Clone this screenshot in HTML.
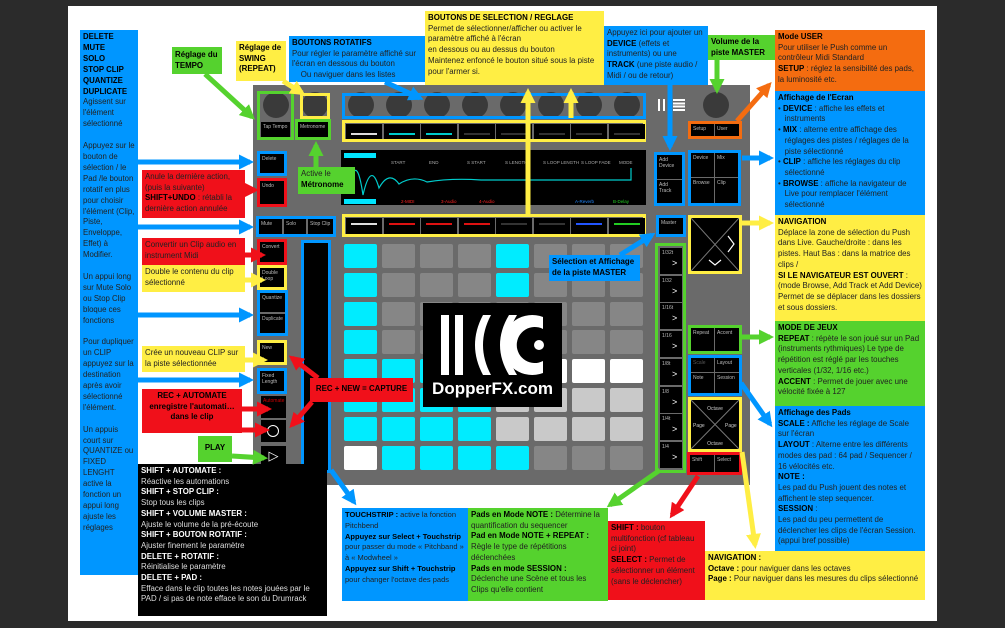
<!DOCTYPE html>
<html><head><meta charset="utf-8"><style>
*{margin:0;padding:0;box-sizing:border-box}
body{width:1005px;height:628px;background:#2b2b2b;position:relative;overflow:hidden;font-family:"Liberation Sans",sans-serif}
.a{position:absolute}
.t{position:absolute;font-size:7.9px;line-height:10.7px;padding:2px 3px;color:#222;overflow:hidden}
.t b{color:#000}
.B{background:#0096ff}.Y{background:#ffee44}.G{background:#55d22e}.R{background:#f0101a}.O{background:#f46c10}.K{background:#000;color:#ddd}
.K b{color:#fff}
.btn{position:absolute;background:#000;color:#bbb;font-size:5px;line-height:6px;padding:2px}
.pad{position:absolute;width:33px;height:24px;border-radius:2px}
.g{background:#868686}.c{background:#00ecff}.w{background:#fff}.l{background:#c9c9c9}
.knob{position:absolute;width:26px;height:26px;border-radius:50%;background:#3a3a3a}
.bd{position:absolute;border:3px solid}
</style></head><body>
<div class="a" style="left:68px;top:6px;width:869px;height:615px;background:#fff"></div>
<div class="a" style="left:253px;top:85px;width:497px;height:400px;background:#6a6a6a"></div>

<div class="knob" style="left:263px;top:92px"></div>
<div class="knob" style="left:302px;top:92px"></div>
<div class="knob" style="left:348px;top:92px"></div><div class="knob" style="left:386px;top:92px"></div><div class="knob" style="left:424px;top:92px"></div><div class="knob" style="left:462px;top:92px"></div><div class="knob" style="left:500px;top:92px"></div><div class="knob" style="left:538px;top:92px"></div><div class="knob" style="left:576px;top:92px"></div><div class="knob" style="left:614px;top:92px"></div>
<div class="knob" style="left:703px;top:92px"></div>
<div class="a" style="left:658px;top:99px;width:12px;height:12px;border-left:2px solid #fff;border-right:2px solid #fff"><div class="a" style="left:3px;top:0;width:2px;height:12px;background:#fff"></div></div>
<div class="a" style="left:673px;top:99px;width:12px;height:12px;background:repeating-linear-gradient(#fff 0 2px,transparent 2px 3.3px)"></div>
<div class="bd" style="left:257px;top:91px;width:37px;height:49px;border-color:#55d22e"></div>
<div class="btn" style="left:261px;top:122px;width:29px;height:15px">Tap Tempo</div>
<div class="bd" style="left:300px;top:93px;width:30px;height:26px;border-color:#ffee44"></div>
<div class="bd" style="left:295px;top:119px;width:36px;height:21px;border-color:#55d22e"></div>
<div class="btn" style="left:298px;top:122px;width:30px;height:15px">Metronome</div>
<div class="bd" style="left:342px;top:93px;width:304px;height:26px;border-color:#0096ff"></div>
<div class="bd" style="left:342px;top:120px;width:304px;height:22px;border-color:#ffee44"></div>
<div class="bd" style="left:342px;top:214px;width:304px;height:23px;border-color:#ffee44"></div>
<div id="rows"></div>
<div class="a" style="left:341px;top:150px;width:305px;height:55px;background:#000;font-size:4.5px;color:#aaa">
<div class="a" style="left:3px;top:3px;width:32px;height:5px;background:#00e5ff"></div>
<div class="a" style="left:3px;top:49px;width:32px;height:5px;background:#00e5ff"></div>
<div class="a" style="left:60px;top:49px;color:#f22">2-MIDI</div><div class="a" style="left:100px;top:49px;color:#f22">3-Audio</div><div class="a" style="left:138px;top:49px;color:#f22">4-Audio</div>
<div class="a" style="left:234px;top:49px;color:#28f">A-Reverb</div><div class="a" style="left:272px;top:49px;color:#2c2">B-Delay</div>
<div class="a" style="left:50px;top:10px">START</div><div class="a" style="left:88px;top:10px">END</div><div class="a" style="left:126px;top:10px">S START</div><div class="a" style="left:164px;top:10px">S LENGTH</div><div class="a" style="left:202px;top:10px">S LOOP LENGTH</div><div class="a" style="left:240px;top:10px">S LOOP FADE</div><div class="a" style="left:278px;top:10px">MODE</div>
<svg class="a" style="left:0;top:0" width="305" height="55"><path d="M10 30 Q16 5 22 45 Q30 10 38 38 Q48 20 58 34 Q72 25 86 32 Q110 28 140 30 L290 30 L290 18" fill="none" stroke="#0cc" stroke-width="1.2"/></svg>
</div>
<div class="bd" style="left:257px;top:151px;width:30px;height:25px;border-color:#0096ff"></div><div class="btn" style="left:260px;top:154px;width:24px;height:19px">Delete</div>
<div class="bd" style="left:257px;top:178px;width:30px;height:29px;border-color:#f0101a"></div><div class="btn" style="left:260px;top:181px;width:24px;height:23px">Undo</div>
<div class="bd" style="left:256px;top:216px;width:80px;height:21px;border-color:#0096ff"></div>
<div class="btn" style="left:259px;top:219px;width:23px;height:15px">Mute</div><div class="btn" style="left:284px;top:219px;width:22px;height:15px">Solo</div><div class="btn" style="left:308px;top:219px;width:25px;height:15px">Stop Clip</div>
<div class="bd" style="left:257px;top:239px;width:30px;height:26px;border-color:#f0101a"></div><div class="btn" style="left:260px;top:242px;width:24px;height:20px">Convert</div>
<div class="bd" style="left:257px;top:265px;width:30px;height:25px;border-color:#ffee44"></div><div class="btn" style="left:260px;top:268px;width:24px;height:19px">Double Loop</div>
<div class="bd" style="left:257px;top:290px;width:31px;height:46px;border-color:#0096ff"></div><div class="btn" style="left:260px;top:293px;width:25px;height:19px">Quantize</div><div class="btn" style="left:260px;top:314px;width:25px;height:19px">Duplicate</div>
<div class="bd" style="left:257px;top:340px;width:30px;height:25px;border-color:#ffee44"></div><div class="btn" style="left:260px;top:343px;width:24px;height:19px">New</div>
<div class="bd" style="left:257px;top:368px;width:30px;height:26px;border-color:#0096ff"></div><div class="btn" style="left:260px;top:371px;width:24px;height:20px">Fixed Length</div>
<div class="btn" style="left:261px;top:396px;width:25px;height:22px;color:#c00">Automate</div>
<div class="btn" style="left:261px;top:420px;width:25px;height:22px"><div class="a" style="left:6px;top:5px;width:12px;height:12px;border:1.5px solid #fff;border-radius:50%"></div></div>
<div class="btn" style="left:261px;top:446px;width:25px;height:22px;color:#fff;font-size:13px;line-height:16px;text-align:center">▷</div>
<div class="bd" style="left:301px;top:240px;width:30px;height:233px;border-color:#0096ff;background:#000"></div>
<div class="bd" style="left:688px;top:121px;width:54px;height:18px;border-color:#f46c10"></div><div class="btn" style="left:691px;top:124px;width:23px;height:12px">Setup</div><div class="btn" style="left:715px;top:124px;width:24px;height:12px">User</div>
<div class="bd" style="left:654px;top:152px;width:31px;height:54px;border-color:#0096ff"></div><div class="btn" style="left:657px;top:155px;width:25px;height:24px">Add Device</div><div class="btn" style="left:657px;top:180px;width:25px;height:23px">Add Track</div>
<div class="bd" style="left:688px;top:150px;width:53px;height:56px;border-color:#0096ff"></div>
<div class="btn" style="left:691px;top:153px;width:23px;height:24px">Device</div><div class="btn" style="left:715px;top:153px;width:23px;height:24px">Mix</div><div class="btn" style="left:691px;top:178px;width:23px;height:25px">Browse</div><div class="btn" style="left:715px;top:178px;width:23px;height:25px">Clip</div>
<div class="bd" style="left:656px;top:215px;width:30px;height:22px;border-color:#0096ff"></div><div class="btn" style="left:659px;top:218px;width:24px;height:16px">Master</div>
<div class="bd" style="left:688px;top:215px;width:54px;height:59px;border-color:#ffee44;background:#000"></div>
<svg class="a" style="left:691px;top:218px" width="48" height="53"><path d="M0 0L48 53M48 0L0 53" stroke="#777" stroke-width="1"/><path d="M37 18l6 8-6 8M18 42l6 5 6-5" stroke="#fff" fill="none" stroke-width="1.2"/></svg>
<div class="bd" style="left:655px;top:243px;width:31px;height:230px;border-color:#55d22e"></div>
<div id="scenes"></div>
<div class="bd" style="left:688px;top:325px;width:54px;height:29px;border-color:#55d22e"></div><div class="btn" style="left:691px;top:328px;width:23px;height:23px">Repeat</div><div class="btn" style="left:715px;top:328px;width:24px;height:23px">Accent</div>
<div class="bd" style="left:688px;top:355px;width:54px;height:41px;border-color:#0096ff"></div>
<div class="btn" style="left:691px;top:358px;width:23px;height:14px;color:#555">Scale</div><div class="btn" style="left:715px;top:358px;width:24px;height:14px">Layout</div><div class="btn" style="left:691px;top:373px;width:23px;height:20px">Note</div><div class="btn" style="left:715px;top:373px;width:24px;height:20px">Session</div>
<div class="bd" style="left:688px;top:397px;width:54px;height:55px;border-color:#ffee44;background:#000"></div>
<svg class="a" style="left:691px;top:400px" width="48" height="49"><path d="M0 0L48 49M48 0L0 49" stroke="#777"/><text x="24" y="10" font-size="5" fill="#ccc" text-anchor="middle" font-family="Liberation Sans">Octave</text><text x="24" y="45" font-size="5" fill="#ccc" text-anchor="middle" font-family="Liberation Sans">Octave</text><text x="2" y="27" font-size="5" fill="#ccc" font-family="Liberation Sans">Page</text><text x="34" y="27" font-size="5" fill="#ccc" font-family="Liberation Sans">Page</text></svg>
<div class="bd" style="left:687px;top:452px;width:55px;height:23px;border-color:#f0101a"></div><div class="btn" style="left:690px;top:455px;width:24px;height:17px">Shift</div><div class="btn" style="left:715px;top:455px;width:24px;height:17px">Select</div>
<div id="pads"></div>
<div class="a" style="left:423px;top:303px;width:139px;height:104px;background:#000;color:#fff">
<svg class="a" style="left:16px;top:10px" width="110" height="64"><rect x="2" y="2" width="8" height="60" fill="#fff"/><rect x="16" y="2" width="8" height="60" fill="#fff"/><path d="M44 2 Q28 32 44 62 L52 62 Q36 32 52 2Z" fill="#fff"/><path d="M70 2 Q52 32 70 62 L78 62 Q60 32 78 2Z" fill="#fff"/><path d="M104 4 A30 30 0 1 0 104 60 L104 48 A18 18 0 1 1 104 16Z" fill="#fff"/><circle cx="100" cy="32" r="5" fill="#fff"/></svg>
<div class="a" style="left:0;top:76px;width:139px;text-align:center;font-weight:bold;font-size:17px">DopperFX.com</div>
</div>

<div class="t B" style="left:80px;top:30px;width:58px;height:545px;font-size:7.8px;line-height:10.9px"><b>DELETE<br>MUTE<br>SOLO<br>STOP CLIP<br>QUANTIZE<br>DUPLICATE</b><br>Agissent sur l'élément sélectionné<br><br>Appuyez sur le bouton de sélection / le Pad /le bouton rotatif en plus pour choisir l'élément (Clip, Piste, Enveloppe, Effet) à Modifier.<br><br>Un appui long sur Mute Solo ou Stop Clip bloque ces fonctions<br><br>Pour dupliquer un CLIP appuyez sur la destination après avoir sélectionné l'élément.<br><br>Un appuis court sur QUANTIZE ou FIXED LENGHT active la fonction un appui long ajuste les réglages</div>
<div class="t G" style="left:172px;top:47px;width:50px;height:27px;padding-top:3px"><b>Réglage du TEMPO</b></div>
<div class="t Y" style="left:236px;top:41px;width:50px;height:40px"><b>Réglage de SWING (REPEAT)</b></div>
<div class="t B" style="left:289px;top:36px;width:136px;height:46px"><b>BOUTONS ROTATIFS</b><br>Pour régler le paramètre affiché sur l'écran en dessous du bouton<br>&nbsp;&nbsp;&nbsp;&nbsp;Ou naviguer dans les listes</div>
<div class="t Y" style="left:425px;top:11px;width:179px;height:74px"><b>BOUTONS DE SELECTION / REGLAGE</b><br>Permet de sélectionner/afficher ou activer le paramètre affiché à l'écran<br>en dessous ou au dessus du bouton<br>Maintenez enfoncé le bouton situé sous la piste pour l'armer si.</div>
<div class="t B" style="left:604px;top:26px;width:104px;height:59px">Appuyez ici pour ajouter un <b>DEVICE</b> (effets et instruments) ou une <b>TRACK</b> (une piste audio / Midi / ou de retour)</div>
<div class="t G" style="left:708px;top:35px;width:67px;height:25px"><b>Volume de la piste MASTER</b></div>
<div class="t O" style="left:775px;top:30px;width:150px;height:61px"><b>Mode USER</b><br>Pour utiliser le Push comme un contrôleur Midi Standard<br><b>SETUP</b> : réglez la sensibilité des pads, la luminosité etc.</div>
<div class="t B" style="left:775px;top:91px;width:150px;height:124px"><b>Affichage de l'Ecran</b><br>• <b>DEVICE</b> : affiche les effets et<br>&nbsp;&nbsp;&nbsp;instruments<br>• <b>MIX</b> : alterne entre affichage des<br>&nbsp;&nbsp;&nbsp;réglages des pistes / réglages de la<br>&nbsp;&nbsp;&nbsp;piste sélectionné<br>• <b>CLIP</b> : affiche les réglages du clip<br>&nbsp;&nbsp;&nbsp;sélectionné<br>• <b>BROWSE</b> : affiche la navigateur de<br>&nbsp;&nbsp;&nbsp;Live pour remplacer l'élément<br>&nbsp;&nbsp;&nbsp;sélectionné</div>
<div class="t Y" style="left:775px;top:215px;width:150px;height:106px"><b>NAVIGATION</b><br>Déplace la zone de sélection du Push dans Live. Gauche/droite : dans les pistes. Haut Bas : dans la matrice des clips /<br><b>SI LE NAVIGATEUR EST OUVERT</b> : (mode Browse, Add Track et Add Device) Permet de se déplacer dans les dossiers et sous dossiers.</div>
<div class="t G" style="left:775px;top:321px;width:150px;height:85px"><b>MODE DE JEUX</b><br><b>REPEAT</b> : répète le son joué sur un Pad (instruments rythmiques) Le type de répétition est réglé par les touches verticales (1/32, 1/16 etc.)<br><b>ACCENT</b> : Permet de jouer avec une vélocité fixée à 127</div>
<div class="t B" style="left:775px;top:406px;width:150px;height:145px"><b>Affichage des Pads</b><br><b>SCALE :</b> Affiche les réglage de Scale sur l'écran<br><b>LAYOUT</b> : Alterne entre les différents modes des pad : 64 pad / Sequencer / 16 vélocités  etc.<br><b>NOTE :</b><br>Les pad du Push jouent des notes et affichent le step sequencer.<br><b>SESSION</b> :<br>Les pad du peu permettent de déclencher les clips de l'écran Session. (appui bref possible)</div>
<div class="t Y" style="left:705px;top:551px;width:220px;height:49px"><b>NAVIGATION :</b><br><b>Octave :</b> pour naviguer dans les octaves<br><b>Page :</b> Pour naviguer dans les mesures du clips sélectionné</div>
<div class="t R" style="left:608px;top:521px;width:97px;height:79px"><b>SHIFT :</b> bouton multifonction (cf tableau ci joint)<br><b>SELECT :</b> Permet de sélectionner un élément (sans le déclencher)</div>
<div class="t G" style="left:468px;top:508px;width:140px;height:93px"><b>Pads en Mode NOTE :</b> Détermine la quantification du sequencer<br><b>Pad en Mode NOTE + REPEAT :</b> Règle le type de répétitions déclenchées<br><b>Pads en mode SESSION :</b><br>Déclenche une Scène et tous les Clips qu'elle contient</div>
<div class="t B" style="left:342px;top:508px;width:126px;height:93px;font-size:7.5px;line-height:10.8px"><b>TOUCHSTRIP :</b> active la fonction Pitchbend<br><b>Appuyez sur Select + Touchstrip</b> pour passer du mode « Pitchband » à « Modwheel »<br><b>Appuyez sur Shift + Touchstrip</b> pour changer l'octave des pads</div>
<div class="t K" style="left:138px;top:464px;width:189px;height:152px"><b>SHIFT + AUTOMATE :</b><br>Réactive les automations<br><b>SHIFT + STOP CLIP :</b><br>Stop tous les clips<br><b>SHIFT + VOLUME MASTER :</b><br>Ajuste le volume de la pré-écoute<br><b>SHIFT + BOUTON ROTATIF :</b><br>Ajuster finement le paramètre<br><b>DELETE + ROTATIF :</b><br>Réinitialise le paramètre<br><b>DELETE + PAD :</b><br>Efface dans le clip toutes les notes  jouées par le PAD / si pas de note efface le son du Drumrack</div>
<div class="t R" style="left:142px;top:170px;width:103px;height:48px">Anule la dernière action, (puis la suivante)<br><b>SHIFT+UNDO</b> : rétabli la dernière action annulée</div>
<div class="t R" style="left:142px;top:238px;width:103px;height:27px">Convertir un Clip audio en instrument Midi</div>
<div class="t Y" style="left:142px;top:265px;width:103px;height:27px">Double le contenu du clip sélectionné</div>
<div class="t Y" style="left:142px;top:346px;width:103px;height:26px">Crée un nouveau CLIP sur la piste sélectionnée</div>
<div class="t R" style="left:142px;top:389px;width:100px;height:44px;text-align:center"><b>REC + AUTOMATE enregistre l'automati… dans le clip</b></div>
<div class="t G" style="left:198px;top:436px;width:34px;height:26px;padding-top:7px;text-align:center"><b>PLAY</b></div>
<div class="t R" style="left:310px;top:378px;width:103px;height:24px;padding-top:6px;text-align:center"><b>REC + NEW = CAPTURE</b></div>
<div class="t G" style="left:298px;top:167px;width:57px;height:27px">Active le<br><b>Métronome</b></div>
<div class="t B" style="left:549px;top:255px;width:91px;height:26px"><b>Sélection et Affichage de la piste MASTER</b></div>

<svg class="a" style="left:0;top:0" width="1005" height="628">
<defs>
<marker id="mb" markerWidth="3" markerHeight="3" refX="2.2" refY="1.5" orient="auto"><path d="M0 0L3 1.5L0 3Z" fill="#0096ff"/></marker>
<marker id="my" markerWidth="3" markerHeight="3" refX="2.2" refY="1.5" orient="auto"><path d="M0 0L3 1.5L0 3Z" fill="#ffee44"/></marker>
<marker id="mg" markerWidth="3" markerHeight="3" refX="2.2" refY="1.5" orient="auto"><path d="M0 0L3 1.5L0 3Z" fill="#55d22e"/></marker>
<marker id="mr" markerWidth="3" markerHeight="3" refX="2.2" refY="1.5" orient="auto"><path d="M0 0L3 1.5L0 3Z" fill="#f0101a"/></marker>
<marker id="mo" markerWidth="3" markerHeight="3" refX="2.2" refY="1.5" orient="auto"><path d="M0 0L3 1.5L0 3Z" fill="#f46c10"/></marker>
</defs>
<g stroke-width="5" fill="none">
<path d="M205 74L252 117" stroke="#55d22e" marker-end="url(#mg)"/>
<path d="M283 81L302 93" stroke="#ffee44" marker-end="url(#my)"/>
<path d="M385 82L420 98" stroke="#0096ff" marker-end="url(#mb)"/>
<path d="M528 214L528 92" stroke="#ffee44" marker-end="url(#my)"/>
<path d="M571 118L571 92" stroke="#ffee44" marker-end="url(#my)"/>
<path d="M670 85L670 147" stroke="#0096ff" marker-end="url(#mb)"/>
<path d="M717 60L717 90" stroke="#55d22e" marker-end="url(#mg)"/>
<path d="M737 121L769 85" stroke="#f46c10" marker-end="url(#mo)"/>
<path d="M742 158L770 158" stroke="#0096ff" marker-end="url(#mb)"/>
<path d="M742 223L770 223" stroke="#ffee44" marker-end="url(#my)"/>
<path d="M742 337L770 337" stroke="#55d22e" marker-end="url(#mg)"/>
<path d="M741 383L770 424" stroke="#0096ff" marker-end="url(#mb)"/>
<path d="M742 452L755 545" stroke="#ffee44" marker-end="url(#my)"/>
<path d="M698 476L672 515" stroke="#f0101a" marker-end="url(#mr)"/>
<path d="M660 470L610 505" stroke="#55d22e" marker-end="url(#mg)"/>
<path d="M331 470L354 502" stroke="#0096ff" marker-end="url(#mb)"/>
<path d="M138 162L250 162" stroke="#0096ff" marker-end="url(#mb)"/>
<path d="M138 227L250 227" stroke="#0096ff" marker-end="url(#mb)"/>
<path d="M138 315L250 315" stroke="#0096ff" marker-end="url(#mb)"/>
<path d="M138 380L250 380" stroke="#0096ff" marker-end="url(#mb)"/>
<path d="M245 190L255 190" stroke="#f0101a" marker-end="url(#mr)"/>
<path d="M245 255L262 255" stroke="#f0101a" marker-end="url(#mr)"/>
<path d="M245 280L262 280" stroke="#ffee44" marker-end="url(#my)"/>
<path d="M245 360L264 360" stroke="#ffee44" marker-end="url(#my)"/>
<path d="M242 409L268 409" stroke="#f0101a" marker-end="url(#mr)"/>
<path d="M242 430L266 430" stroke="#f0101a" marker-end="url(#mr)"/>
<path d="M232 456L264 458" stroke="#55d22e" marker-end="url(#mg)"/>
<path d="M318 378L292 358" stroke="#f0101a" marker-end="url(#mr)"/>
<path d="M312 402L292 425" stroke="#f0101a" marker-end="url(#mr)"/>
<path d="M316 167L316 145" stroke="#55d22e" marker-end="url(#mg)"/>
<path d="M620 255L652 235" stroke="#0096ff" marker-end="url(#mb)"/>
</g>
</svg>
<script>
var r=document.getElementById('rows'),h='';
var up=['#ddd','#0cc','#0cc','#333','#333','#333','#333','#333'],lo=['#ddd','#d11','#d11','#d11','#333','#333','#25f','#2c2'];
for(var i=0;i<8;i++){h+='<div class="btn" style="left:'+(346+i*37.5)+'px;top:124px;width:36px;height:15px"><div class="a" style="left:5px;top:9px;width:26px;height:1.5px;background:'+up[i]+'"></div></div>';
h+='<div class="btn" style="left:'+(346+i*37.5)+'px;top:218px;width:36px;height:16px"><div class="a" style="left:5px;top:5px;width:26px;height:1.5px;background:'+lo[i]+'"></div></div>';}
r.innerHTML=h;
var P=['cgggcggg','cgggcggg','cggggggg','cggggggg','cccccwww','ccccllll','ccccllll','wccccggg'];h='';
for(var y=0;y<8;y++)for(var x=0;x<8;x++)h+='<div class="pad '+P[y][x]+'" style="left:'+(344+x*38)+'px;top:'+(244+y*28.8)+'px"></div>';
document.getElementById('pads').innerHTML=h;
var S=['1/32t','1/32','1/16t','1/16','1/8t','1/8','1/4t','1/4'];h='';
for(var i=0;i<8;i++)h+='<div class="btn" style="left:660px;top:'+(248+i*27.7)+'px;width:22px;height:26px">'+S[i]+'<div class="a" style="left:12px;top:12px;color:#fff;font-size:9px">&gt;</div></div>';
document.getElementById('scenes').innerHTML=h;
</script>
</body></html>
